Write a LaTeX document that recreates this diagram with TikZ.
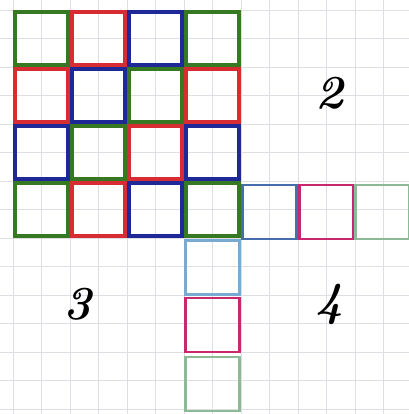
\documentclass[tikz,border=0pt]{standalone}
\definecolor{gG}{RGB}{55,120,35}
\definecolor{rR}{RGB}{215,45,50}
\definecolor{bB}{RGB}{30,40,150}
\definecolor{eB}{RGB}{70,110,170}
\definecolor{lB}{RGB}{120,170,210}
\definecolor{mM}{RGB}{200,40,110}
\definecolor{lG}{RGB}{140,185,150}
\definecolor{paper}{RGB}{222,222,228}
\tikzset{
  cell/.style={draw=#1, line width=0.08cm, minimum size=1.06cm, inner sep=0pt},
  thincell/.style={draw=#1, line width=0.045cm, minimum size=1.08cm, inner sep=0pt},
  lbl/.style={font=\fontsize{27}{27}\selectfont\bfseries\itshape, inner sep=0pt}
}
\begin{document}
\begin{tikzpicture}[x=0.02cm,y=-0.02cm]
\useasboundingbox (0,0) rectangle (409,414);
\fill[white] (0,0) rectangle (409,414);
% graph paper
\foreach \k in {0,...,14} {
  \draw[paper, line width=0.3pt] ({13+28.5*\k-28.5},0) -- ({13+28.5*\k-28.5},414);
  \draw[paper, line width=0.3pt] (0,{10+28.5*\k}) -- (409,{10+28.5*\k});
}
% main 4x4 grid
\node[cell=gG] (c11) at (41.5,38.5) {};
\node[cell=rR] (c12) at (98.5,38.5) {};
\node[cell=bB] (c13) at (155.5,38.5) {};
\node[cell=gG] (c14) at (212.5,38.5) {};
\node[cell=rR] (c21) at (41.5,95.5) {};
\node[cell=bB] (c22) at (98.5,95.5) {};
\node[cell=gG] (c23) at (155.5,95.5) {};
\node[cell=rR] (c24) at (212.5,95.5) {};
\node[cell=bB] (c31) at (41.5,152.5) {};
\node[cell=gG] (c32) at (98.5,152.5) {};
\node[cell=rR] (c33) at (155.5,152.5) {};
\node[cell=bB] (c34) at (212.5,152.5) {};
\node[cell=gG] (c41) at (41.5,209.5) {};
\node[cell=rR] (c42) at (98.5,209.5) {};
\node[cell=bB] (c43) at (155.5,209.5) {};
\node[cell=gG] (c44) at (212.5,209.5) {};
% right extension
\node[thincell=eB] (r1) at (269.5,212) {};
\node[thincell=mM] (r2) at (326.5,212) {};
\node[thincell=lG] (r3) at (382.5,212) {};
% lower extension
\node[thincell=lB] (d1) at (212.5,267.5) {};
\node[thincell=mM] (d2) at (212.5,325) {};
\node[thincell=lG] (d3) at (212.5,384) {};
% labels
\node[lbl] (n2) at (330,93) {2};
\node[lbl] (n3) at (78,304) {3};
\node[lbl] (n4) at (330,304) {4};
\end{tikzpicture}
\end{document}
